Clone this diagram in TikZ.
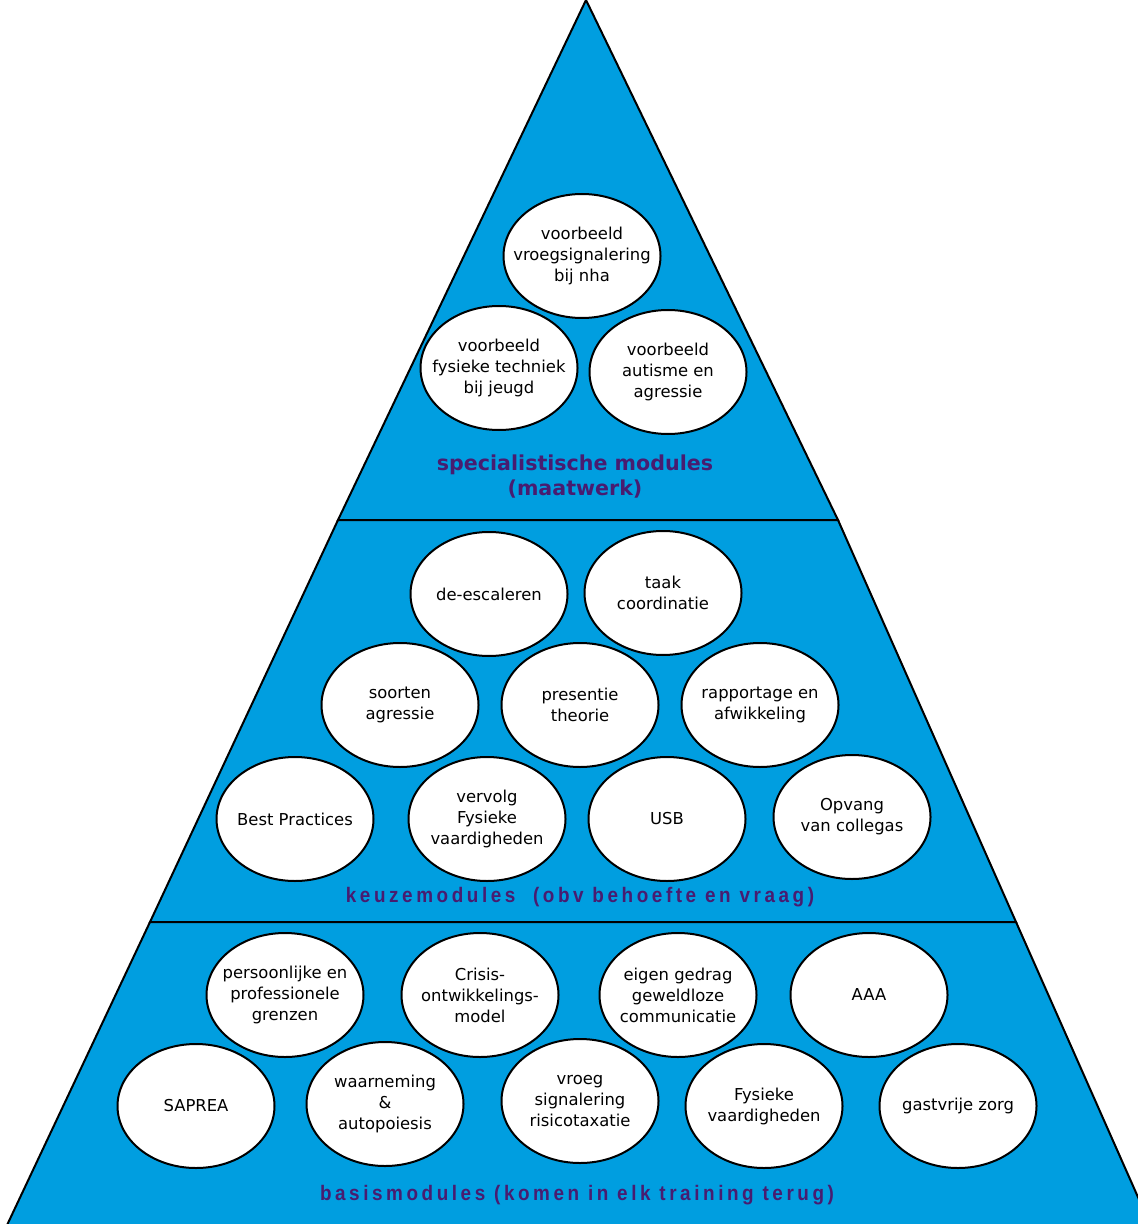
\documentclass[tikz,border=0pt]{standalone}
\usepackage{fontspec}
\setmainfont{DejaVu Sans}
\newfontfamily\bandfont[FakeStretch=0.9,LetterSpace=17]{Liberation Sans}
\usetikzlibrary{shapes.geometric}
\definecolor{pyramidblue}{RGB}{0,158,224}
\definecolor{labelpurple}{RGB}{72,28,112}
\tikzset{
  layer/.style={fill=pyramidblue, draw=black, line width=1pt, line join=miter},
  module/.style={ellipse, draw=black, line width=1pt, fill=white,
    minimum width=78.5pt, minimum height=62pt, inner xsep=-8pt, inner ysep=0pt,
    align=center, font=\fontsize{8.2}{10.5}\selectfont},
  toptitle/.style={text=labelpurple, align=center,
    font=\bfseries\fontsize{10.3}{12.5}\selectfont},
  bandtitle/.style={text=labelpurple, align=center,
    font=\bandfont\bfseries\fontsize{10.5}{12.5}\selectfont}
}
\begin{document}
\begin{tikzpicture}[x=0.5pt,y=-0.5pt]
    \useasboundingbox (0,0) rectangle (1138,1224);
    \clip (0,0) rectangle (1138,1224);

    % the three layers of the pyramid
    \draw[layer] (586,0) -- (838,520) -- (338,520) -- cycle;
    \draw[layer] (338,520) -- (838,520) -- (1016,922) -- (150,922) -- cycle;
    \draw[layer] (150,922) -- (1016,922) -- (1157,1240) -- (0,1240) -- cycle;

    % specialistische modules
    \node[module] (nha) at (582,256) {voorbeeld\\vroegsignalering\\bij nha};
    \node[module] (jeugd) at (499,368) {voorbeeld\\fysieke techniek\\bij jeugd};
    \node[module] (autisme) at (668,372) {voorbeeld\\autisme en\\agressie};
    \node[toptitle] (spec) at (575,477) {specialistische modules\\(maatwerk)};

    % keuzemodules
    \node[module] (deesc) at (489,594) {de-escaleren};
    \node[module] (taak) at (663,593) {taak\\coordinatie};
    \node[module] (soorten) at (400,705) {soorten\\agressie};
    \node[module] (presentie) at (580,705) {presentie\\theorie};
    \node[module] (rapport) at (760,705) {rapportage en\\afwikkeling};
    \node[module] (best) at (295,819) {Best Practices};
    \node[module] (vervolg) at (487,819) {vervolg\\Fysieke\\vaardigheden};
    \node[module] (usb) at (667,819) {USB};
    \node[module] (opvang) at (852,817) {Opvang\\van collegas};
    \node[bandtitle] (keuze) at (580,897) {keuzemodules\ \ (obv behoefte en vraag)};

    % basismodules
    \node[module] (grenzen) at (285,995) {persoonlijke en\\professionele\\grenzen};
    \node[module] (crisis) at (480,995) {Crisis-\\ontwikkelings-\\model};
    \node[module] (gedrag) at (678,995) {eigen gedrag\\geweldloze\\communicatie};
    \node[module] (aaa) at (869,995) {AAA};
    \node[module] (saprea) at (196,1106) {SAPREA};
    \node[module] (waarneming) at (385,1104) {waarneming\\\&\\autopoiesis};
    \node[module] (vroeg) at (580,1101) {vroeg\\signalering\\risicotaxatie};
    \node[module] (fysiek) at (764,1106) {Fysieke\\vaardigheden};
    \node[module] (gastvrij) at (958,1106) {gastvrije zorg};
    \node[bandtitle] (basis) at (577,1195) {basismodules (komen in elk training terug)};
\end{tikzpicture}
\end{document}
